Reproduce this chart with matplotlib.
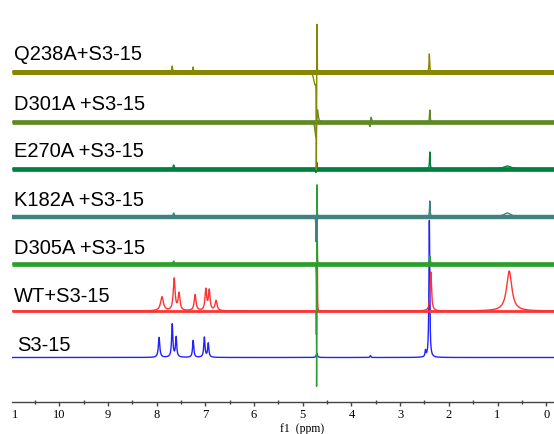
import numpy as np
import matplotlib
matplotlib.use("Agg")
import matplotlib.pyplot as plt

# ---------------- data ----------------
labels = ["S3-15", "WT+S3-15", "D305A +S3-15", "K182A +S3-15",
          "E270A +S3-15", "D301A +S3-15", "Q238A+S3-15"]

# peak lists: position (ppm), intensity (arbitrary units), full width (ppm)
s315_ppm = [7.95, 7.68, 7.60, 7.25, 7.02, 6.94, 4.71, 3.61, 2.48, 2.40]
s315_int = [20, 33, 20, 17, 20, 14, 4, 2, 6, 137]
s315_w = [0.035, 0.03, 0.03, 0.03, 0.03, 0.03, 0.03, 0.02, 0.02, 0.02]

wt_ppm = [7.89, 7.64, 7.54, 7.21, 6.99, 6.92, 6.78, 4.70, 4.72, 2.37, 0.76]
wt_int = [14, 32, 17, 16, 21, 20, 10, 65, -25, 39, 40]
wt_w = [0.07, 0.045, 0.045, 0.045, 0.04, 0.04, 0.05, 0.006, 0.006, 0.035, 0.13]

d305_ppm = [7.65, 4.705, 4.715, 2.39]
d305_int = [3, 90, -130, 8]
d305_w = [0.03, 0.006, 0.006, 0.02]

k182_ppm = [7.65, 4.70, 4.725, 2.39, 0.80]
k182_int = [4, 5, -25, 16, 4]
k182_w = [0.03, 0.01, 0.01, 0.015, 0.18]

e270_ppm = [7.65, 4.71, 4.73, 2.39, 0.80]
e270_int = [4, 8, -4, 17, 3]
e270_w = [0.03, 0.01, 0.03, 0.015, 0.18]

d301_ppm = [4.70, 4.73, 3.60, 3.62, 2.39]
d301_int = [18, -20, 7, -7, 12]
d301_w = [0.04, 0.04, 0.03, 0.03, 0.015]

q238_ppm = [7.68, 7.25, 4.705, 4.72, 4.75, 2.40]
q238_int = [6, 5, 55, -94, -12, 18]
q238_w = [0.015, 0.015, 0.006, 0.006, 0.06, 0.015]

peak_tables = [(s315_ppm, s315_int, s315_w), (wt_ppm, wt_int, wt_w),
               (d305_ppm, d305_int, d305_w), (k182_ppm, k182_int, k182_w),
               (e270_ppm, e270_int, e270_w), (d301_ppm, d301_int, d301_w),
               (q238_ppm, q238_int, q238_w)]

tick_values = [10, 9, 8, 7, 6, 5, 4, 3, 2, 1, 0]
tick_labels = ["10", "9", "8", "7", "6", "5", "4", "3", "2", "1", "0"]

# ---------------- layout / style ----------------
W, H = 554, 435
offsets_px = [358.5, 312, 265, 218, 170, 123, 73]          # trace baselines (px from top)
label_base_px = [351.5, 302, 254.5, 206.5, 157.5, 110, 60.5]
label_x_px = [17, 14, 14, 14, 14, 14, 14]
colors = ["#2222ff", "#ff3333", "#2ca02c", "#3f8280", "#00803f", "#5e8a26", "#878700"]
band_lw = [0, 2.0, 3.4, 3.2, 3.4, 3.4, 3.6]
axis_bottom_px = 32

fig = plt.figure(figsize=(W / 100, H / 100), dpi=100)
ax = fig.add_axes([12 / W, axis_bottom_px / H, 542 / W, (H - axis_bottom_px) / H])
ax.set_xlim(10.97, -0.16)
ax.set_ylim(axis_bottom_px, H)

x = np.linspace(10.97, -0.16, 22000)


def spectrum(ppm, inten, width):
    y = np.zeros_like(x)
    for p, h, w in zip(ppm, inten, width):
        y += h / (1.0 + ((x - p) / (w / 2.0)) ** 2)
    return y


for i, (tab, off, col, blw) in enumerate(zip(peak_tables, offsets_px, colors, band_lw)):
    base = H - off
    z = 2 + i
    if blw > 0:
        ax.plot([10.97, -0.16], [base, base], color=col, lw=blw,
                solid_capstyle="butt", zorder=z)
    ax.plot(x, base + spectrum(*tab), color=col, lw=1.0, zorder=z)
    fig.text(label_x_px[i] / W, 1 - label_base_px[i] / H, labels[i],
             fontsize=14.5, family="Liberation Sans", va="baseline", ha="left")

for s in ["top", "left", "right"]:
    ax.spines[s].set_visible(False)
ax.spines["bottom"].set_color("#444444")
ax.spines["bottom"].set_linewidth(1.0)
ax.set_yticks([])
ax.set_xticks(tick_values)
ax.set_xticklabels(tick_labels, family="Liberation Serif", fontsize=9)
ax.set_xticks(np.arange(0.5, 11, 1.0), minor=True)
ax.tick_params(axis="x", which="major", direction="out", length=3, width=1,
               color="#444444", pad=1.5)
ax.tick_params(axis="x", which="minor", direction="inout", length=3, width=1,
               color="#444444")

fig.text(15 / W, 1 - 415 / H, "1", family="Liberation Serif", fontsize=9,
         ha="center", va="center")
fig.text(302 / W, 0.0, "f1  (ppm)", family="Liberation Serif",
         fontsize=8.5, ha="center", va="bottom")

fig.savefig("out.png", dpi=100)
